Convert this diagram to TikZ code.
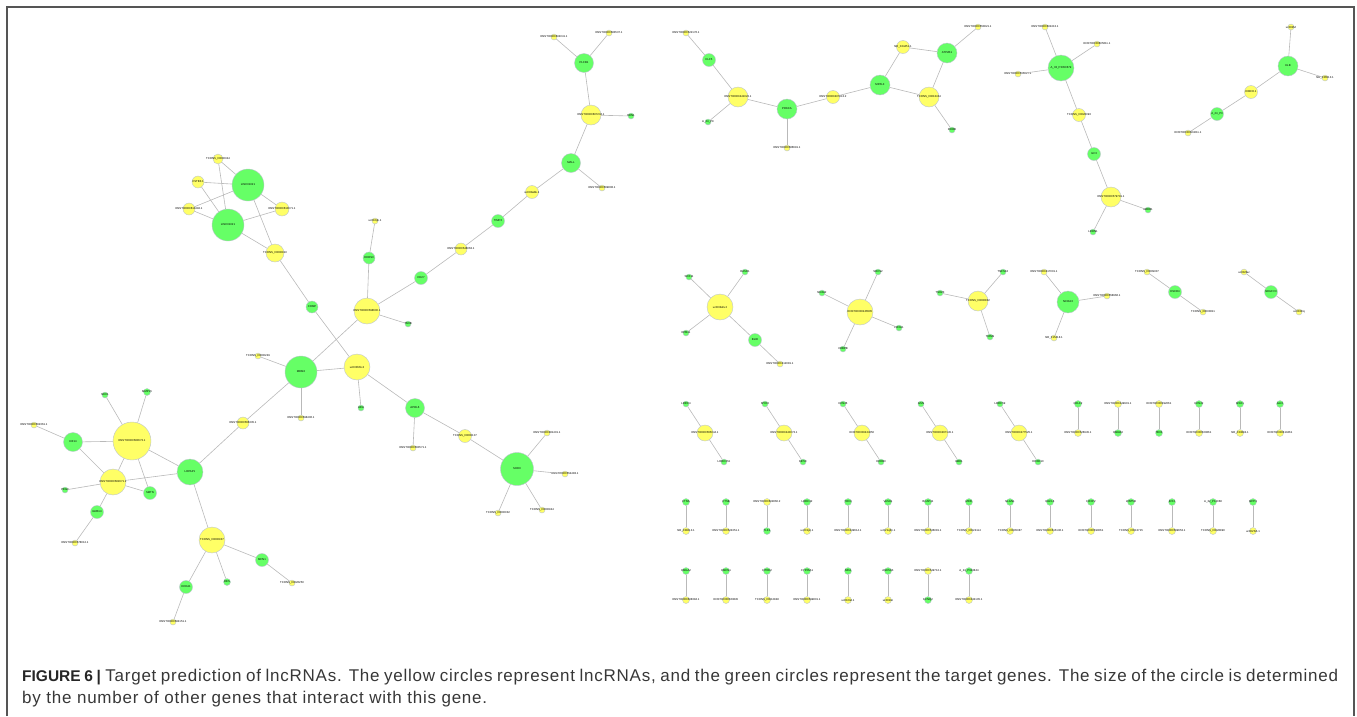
\documentclass[tikz,border=0pt]{standalone}
\usepackage{fontspec}
\setmainfont{Liberation Sans}

\definecolor{genegreen}{RGB}{102,255,102}
\definecolor{lncyellow}{RGB}{255,255,102}
\definecolor{rimgray}{RGB}{188,196,206}
\definecolor{edgegray}{RGB}{185,185,185}
\definecolor{framegray}{RGB}{85,85,85}
\definecolor{captiongray}{RGB}{55,55,55}

\begin{document}
\begin{tikzpicture}[
    x=1pt, y=-1pt,
    dot/.style n args={3}{
        circle,
        draw=rimgray,
        line width=0.4pt,
        fill=#1,
        minimum size=#2pt,
        inner sep=0pt,
        label={[tag]center:#3}
    },
    gene/.style 2 args={dot={genegreen}{#1}{#2}},
    lnc/.style 2 args={dot={lncyellow}{#1}{#2}},
    tag/.style={font=\fontsize{2.8}{3}\selectfont, inner sep=0pt},
    midtag/.style={tag/.append style={font=\fontsize{3.9}{4}\selectfont}},
    bigtag/.style={tag/.append style={font=\fontsize{5.6}{6}\selectfont}},
    link/.style={draw=edgegray, line width=0.6pt}
]
\useasboundingbox (0,0) rectangle (1357,716);
\draw[framegray, line width=1.6pt] (7,716) -- (7,7) -- (1354,7) -- (1354,716);

% left cluster
\node[bigtag, lnc={38}{ENST00000580673.1}] (enst580) at (132,441) {};
\node[gene={19}{KIF14}] (kif14) at (73,442) {};
\node[lnc={6}{ENST00000562361.1}] (ya) at (34,425) {};
\node[gene={6}{NKX1}] (ga) at (105,395) {};
\node[gene={7}{MMP15}] (gb) at (147,392) {};
\node[midtag, lnc={26}{ENST00000581671.1}] (enst581) at (113,482) {};
\node[gene={6}{PEG3}] (gc) at (65,490) {};
\node[gene={13}{SMTN}] (smtn) at (150,493) {};
\node[gene={13}{GRB14}] (grb14) at (97,512) {};
\node[lnc={6}{ENST00000578012.1}] (yb) at (75,543) {};
\node[midtag, gene={26}{LRPAP1}] (lrpap1) at (190,472) {};
\node[lnc={12}{ENST00000566335.1}] (yc) at (243,423) {};
\node[bigtag, gene={32}{MDM2}] (mdm2) at (301,372) {};
\node[lnc={6}{ENST00000598406.1}] (yd) at (301,418) {};
\node[midtag, lnc={26}{TCONS\_00000937}] (tcons937) at (212,540) {};
\node[gene={13}{MFN1}] (mfn1) at (262,560) {};
\node[lnc={6}{TCONS\_00026250}] (ye) at (292,583) {};
\node[gene={7}{DES}] (gd) at (227,582) {};
\node[gene={13}{HOXA1}] (hoxa1) at (186,587) {};
\node[lnc={6}{ENST00000584151.1}] (yf) at (173,622) {};

\node[lnc={10}{TCONS\_00000344}] (yg) at (218,159) {};
\node[lnc={12}{CSTB3.1}] (yh) at (198,182) {};
\node[bigtag, gene={32}{LINC01021}] (lincA) at (248,185) {};
\node[lnc={12}{ENST00000610492.1}] (yi) at (189,209) {};
\node[lnc={14}{ENST00000610071.1}] (yj) at (282,209) {};
\node[bigtag, gene={32}{LINC01021}] (lincB) at (228,225) {};
\node[lnc={18}{TCONS\_00000910}] (tcons910) at (275,253) {};
\node[gene={12}{COMP}] (comp) at (312,307) {};
\node[midtag, lnc={26}{uc003hhk.3}] (uc003) at (357,367) {};
\node[lnc={6}{uc010ijb.1}] (yk) at (375,221) {};
\node[gene={12}{DHRS3}] (dhrs3) at (369,258) {};
\node[midtag, lnc={26}{ENST00000598600.1}] (enst598) at (367,311) {};
\node[gene={6}{TNXB}] (ge) at (408,324) {};
\node[gene={13}{CD27}] (cd27) at (421,278) {};
\node[lnc={12}{ENST00000548063.1}] (yl) at (461,249) {};
\node[lnc={6}{TCONS\_00000249}] (ym) at (258,356) {};
\node[gene={6}{ADA}] (gf) at (361,408) {};
\node[gene={19}{APOL6}] (apol6) at (415,408) {};
\node[lnc={6}{ENST00000560571.1}] (yn) at (413,448) {};
\node[lnc={13}{TCONS\_00000107}] (tcons107) at (465,436) {};
\node[bigtag, gene={33}{SHOX}] (shox) at (517,469) {};
\node[lnc={6}{ENST00000381401.1}] (yo) at (547,433) {};
\node[lnc={6}{ENST00000554483.1}] (yp) at (565,474) {};
\node[lnc={6}{TCONS\_00000944}] (yq) at (542,510) {};
\node[lnc={6}{TCONS\_00000032}] (yr) at (498,513) {};

\node[lnc={6}{ENST00000604041.1}] (ys) at (554,37) {};
\node[lnc={6}{ENST00000583537.1}] (yt) at (609,33) {};
\node[gene={19}{PLCB1}] (plcb1) at (584,63) {};
\node[lnc={20}{ENST00000607234.1}] (enst607) at (591,115) {};
\node[gene={6}{EDN1}] (gg) at (631,116) {};
\node[gene={19}{MALL}] (mall) at (571,163) {};
\node[lnc={6}{ENST00000569808.1}] (yu) at (602,188) {};
\node[lnc={13}{uc003wbk.1}] (yv) at (532,192) {};
\node[gene={13}{TIMP2}] (timp2) at (498,221) {};

% top middle
\node[lnc={6}{ENST00000522176.1}] (yw1) at (686,33) {};
\node[gene={13}{KLF5}] (klf5) at (709,60) {};
\node[lnc={20}{ENST00000441022.1}] (enst441) at (738,97) {};
\node[gene={6}{A\_24\_P9}] (gh) at (708,122) {};
\node[gene={20}{PRKCA}] (prkca) at (787,109) {};
\node[lnc={6}{ENST00000586691.1}] (yw2) at (787,148) {};
\node[lnc={13}{ENST00000407813.2}] (enst407) at (833,97) {};
\node[gene={20}{MPZL3}] (mpzl3) at (880,85) {};
\node[lnc={13}{NR\_024451.1}] (nr024) at (903,47) {};
\node[gene={20}{ATP2B1}] (atp2b1) at (947,53) {};
\node[lnc={6}{ENST00000550821.1}] (yw3) at (978,27) {};
\node[lnc={20}{TCONS\_00013434}] (tcons13434) at (929,97) {};
\node[gene={6}{RHOB}] (gi) at (952,130) {};

% top right
\node[midtag, gene={26}{A\_33\_P3350679}] (a33) at (1061,68) {};
\node[lnc={6}{ENST00000602413.1}] (yx1) at (1045,27) {};
\node[lnc={6}{ENST00000605611.1}] (yx2) at (1097,44) {};
\node[lnc={6}{ENST00000598827.1}] (yx3) at (1018,74) {};
\node[lnc={13}{TCONS\_00028393}] (tcons28393) at (1079,115) {};
\node[gene={13}{ILF3}] (ilf3) at (1094,154) {};
\node[lnc={20}{ENST00000579791.1}] (enst579) at (1111,197) {};
\node[gene={6}{GREB1}] (gj) at (1148,210) {};
\node[gene={6}{LRRN1}] (gk) at (1093,232) {};

\node[gene={20}{KLB}] (klb) at (1288,66) {};
\node[lnc={6}{uc002fvl}] (yz1) at (1291,27) {};
\node[lnc={6}{NR\_036513.1}] (yz2) at (1325,78) {};
\node[lnc={13}{HIBCH.1}] (hibch) at (1251,92) {};
\node[gene={13}{A\_24\_P3}] (ga24) at (1217,114) {};
\node[lnc={6}{ENST00000584011.1}] (yz3) at (1188,133) {};

% middle right
\node[midtag, lnc={26}{uc003kdv.2}] (m1) at (720,307) {};
\node[gene={6}{SOX11}] (m1a) at (689,277) {};
\node[gene={6}{RASD1}] (m1b) at (745,272) {};
\node[gene={6}{EPB41}] (m1c) at (686,333) {};
\node[gene={13}{BLID}] (m1d) at (755,340) {};
\node[lnc={6}{ENST00000412081.1}] (m1e) at (780,364) {};

\node[lnc={26}{ENST00000246505}] (m2) at (860,312) {};
\node[gene={6}{NR4A2}] (m2a) at (822,293) {};
\node[gene={6}{SOCS2}] (m2b) at (878,272) {};
\node[gene={6}{FOXA1}] (m2c) at (899,328) {};
\node[gene={6}{CEBPB}] (m2d) at (843,349) {};

\node[lnc={20}{TCONS\_00000832}] (m3) at (978,301) {};
\node[gene={6}{TSHZ3}] (m3a) at (940,293) {};
\node[gene={6}{TNFSF4}] (m3b) at (1003,272) {};
\node[gene={6}{TRIM9}] (m3c) at (990,337) {};

\node[gene={22}{NCOA3}] (m4) at (1068,302) {};
\node[lnc={6}{ENST00000417001.1}] (m4a) at (1044,272) {};
\node[lnc={6}{ENST00000558966.1}] (m4b) at (1107,296) {};
\node[lnc={6}{NR\_015418.1}] (m4c) at (1054,338) {};

\node[lnc={6}{TCONS\_00009307}] (m5a) at (1147,272) {};
\node[gene={13}{DSCR4}] (m5) at (1175,292) {};
\node[lnc={6}{TCONS\_00030811}] (m5b) at (1203,312) {};

\node[lnc={6}{uc002faz}] (m6a) at (1244,272) {};
\node[gene={13}{NDUFV3}] (m6) at (1271,292) {};
\node[lnc={6}{uc003ihq}] (m6b) at (1299,312) {};

\foreach \a/\b in {enst580/kif14, enst580/ga, enst580/gb, enst580/enst581, enst580/lrpap1,
    enst580/smtn, kif14/ya, kif14/enst581, enst581/gc, enst581/smtn, enst581/lrpap1,
    enst581/grb14, grb14/yb, lrpap1/yc, yc/mdm2, lrpap1/tcons937, tcons937/mfn1, mfn1/ye,
    tcons937/gd, tcons937/hoxa1, hoxa1/yf, mdm2/yd,
    yg/lincA, yg/lincB, yh/lincA, yh/lincB, yi/lincA, yi/lincB, yj/lincA, yj/lincB,
    lincA/tcons910, lincB/tcons910, tcons910/comp, comp/uc003, enst598/mdm2, enst598/dhrs3,
    dhrs3/yk, enst598/ge, enst598/cd27, cd27/yl, mdm2/uc003, mdm2/ym, uc003/gf, uc003/apol6,
    apol6/yn, apol6/tcons107, tcons107/shox, shox/yo, shox/yp, shox/yq, shox/yr,
    ys/plcb1, yt/plcb1, plcb1/enst607, enst607/gg, enst607/mall, mall/yu, mall/yv,
    yv/timp2, timp2/yl,
    yw1/klf5, klf5/enst441, enst441/gh, enst441/prkca, prkca/yw2, prkca/enst407,
    enst407/mpzl3, mpzl3/nr024, mpzl3/tcons13434, nr024/atp2b1, atp2b1/yw3,
    atp2b1/tcons13434, tcons13434/gi,
    a33/yx1, a33/yx2, a33/yx3, a33/tcons28393, tcons28393/ilf3, ilf3/enst579,
    enst579/gj, enst579/gk,
    klb/yz1, klb/yz2, klb/hibch, hibch/ga24, ga24/yz3,
    m1/m1a, m1/m1b, m1/m1c, m1/m1d, m1d/m1e,
    m2/m2a, m2/m2b, m2/m2c, m2/m2d,
    m3/m3a, m3/m3b, m3/m3c,
    m4/m4a, m4/m4b, m4/m4c,
    m5a/m5, m5/m5b, m6a/m6, m6/m6b}
    \draw[link] (\a) -- (\b);

% small components
\foreach \x/\ta/\tb/\tc [count=\i] in {705/LRRC4/ENST00000565044.1/LRRC37A,
    784/MYH3/ENST00000440073.1/KIF5C, 862/KCNJ6/ENST00000424050/HOXB3,
    940/GSN/ENST00000467145.1/GBE1, 1019/LRRC59/ENST00000477525.1/HOXD10} {
    \node[gene={6}{\ta}] (tria\i) at (\x-19,404) {};
    \node[lnc={16}{\tb}] (trib\i) at (\x,433) {};
    \node[gene={6}{\tc}] (tric\i) at (\x+19,462) {};
    \draw[link] (tria\i) -- (trib\i) -- (tric\i);
}

\foreach \x/\y/\ca/\la/\cb/\lb [count=\i] in {
    1078/404/genegreen/CELF2/lncyellow/ENST00000526945.1,
    1118/404/lncyellow/ENST00000449901.1/genegreen/HMGB3,
    1159/404/lncyellow/ENST00000392061/genegreen/TBX3,
    1199/404/genegreen/KCNJ2/lncyellow/ENST00000500861,
    1240/404/genegreen/MSX1/lncyellow/NR\_033884.1,
    1280/404/genegreen/GLI3/lncyellow/ENST00000610461,
    686/502/genegreen/CTNS/lncyellow/NR\_038213.1,
    726/502/genegreen/CTSB/lncyellow/ENST00000524351.1,
    767/502/lncyellow/ENST00000602860.2/genegreen/TLK1,
    807/502/genegreen/LRRC32/lncyellow/uc001jzl.1,
    848/502/genegreen/TOX3/lncyellow/ENST00000439614.1,
    888/502/genegreen/VASH1/lncyellow/uc021qfm.1,
    928/502/genegreen/BCAP31/lncyellow/ENST00000536081.1,
    969/502/genegreen/MDFI/lncyellow/TCONS\_00024114,
    1010/502/genegreen/NLGN1/lncyellow/TCONS\_00005387,
    1050/502/genegreen/EGFL6/lncyellow/ENST00000615136.1,
    1091/502/genegreen/FOXP2/lncyellow/ENST00000590061,
    1131/502/genegreen/WNT5B/lncyellow/TCONS\_00013715,
    1172/502/genegreen/IRX2/lncyellow/ENST00000569653.1,
    1213/502/genegreen/A\_32\_P12068/lncyellow/TCONS\_00028890,
    1253/502/genegreen/MPP3/lncyellow/uc002fvh.1,
    686/571/genegreen/HMGA2/lncyellow/ENST00000608384.1,
    726/571/genegreen/HMCN1/lncyellow/ENST00000563845,
    767/571/genegreen/CITED2/lncyellow/TCONS\_00012848,
    807/571/genegreen/CYP26A1/lncyellow/ENST00000599801.1,
    848/571/genegreen/NFIA/lncyellow/uc010lel.1,
    888/571/genegreen/ANKS1B/lncyellow/uc001tzi,
    928/571/lncyellow/ENST00000549712.1/genegreen/KCNQ2,
    969/571/genegreen/A\_24\_P923844/lncyellow/ENST00000434105.1} {
    \node[dot={\ca}{7}{\la}] (pairA\i) at (\x,\y) {};
    \node[dot={\cb}{7}{\lb}] (pairB\i) at (\x,\y+29) {};
    \draw[link] (pairA\i) -- (pairB\i);
}

\node[anchor=north west, inner sep=0pt, text width=1316pt, align=justify, text=captiongray,
    font=\fontsize{17}{22}\selectfont\addfontfeature{LetterSpace=4.5}] (caption) at (22,669)
    {{\fontsize{15.5}{22}\selectfont\addfontfeature{LetterSpace=0}\color{black!85}\textbf{FIGURE 6 |}} Target prediction of lncRNAs. The yellow circles represent lncRNAs, and the green circles represent the target genes. The size of the circle is determined\linebreak
    by the number of other genes that interact with this gene.};
\end{tikzpicture}
\end{document}
